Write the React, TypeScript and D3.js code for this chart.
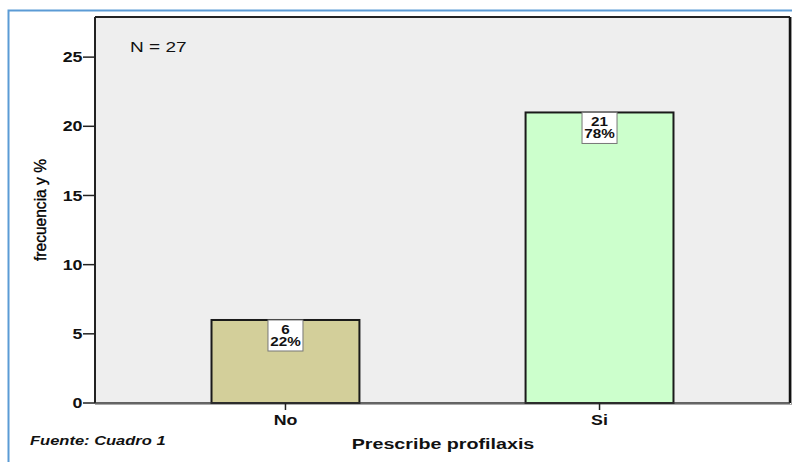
import React from "react";
import * as d3 from "d3";

const categories = ["No", "Si"];
const counts = [6, 21];
const percents = ["22%", "78%"];
const barColors = ["#d3cf9a", "#ccffcc"];
const yTicks = [0, 5, 10, 15, 20, 25];
const totalN = 27;

const W = 792;
const H = 462;
const plot = { left: 95, right: 790, top: 17, bottom: 403 };
const FONT = "'Liberation Sans', Arial, sans-serif";
const SX = 1.27;

type STProps = {
  x: number;
  y: number;
  anchor?: "start" | "middle" | "end";
  size: number;
  weight?: string | number;
  italic?: boolean;
  dy?: string;
  children: React.ReactNode;
};

function SText({ x, y, anchor = "start", size, weight = "normal", italic = false, dy, children }: STProps) {
  return (
    <g transform={`translate(${x},${y}) scale(${SX},1)`}>
      <text
        x={0}
        y={0}
        dy={dy}
        textAnchor={anchor}
        fontSize={size}
        fontWeight={weight}
        fontStyle={italic ? "italic" : "normal"}
        fill="#111"
      >
        {children}
      </text>
    </g>
  );
}

export default function App() {
  const y = d3.scaleLinear().domain([0, 27.9]).range([plot.bottom, plot.top]);
  const x = d3
    .scaleBand<string>()
    .domain(categories)
    .range([plot.left, plot.right])
    .paddingInner(0.529)
    .paddingOuter(0.371);
  const bw = x.bandwidth();

  return (
    <svg width={W} height={H} style={{ position: "absolute", left: 0, top: 0, fontFamily: FONT }}>
      <rect x={0} y={0} width={W} height={H} fill="#ffffff" />
      {/* outer blue frame */}
      <rect x={8.5} y={10.5} width={W + 20} height={H + 20} fill="none" stroke="#5b9bd5" strokeWidth={2} />
      {/* plot background */}
      <rect x={plot.left} y={plot.top} width={plot.right - plot.left} height={plot.bottom - plot.top} fill="#eeeeee" />
      {/* bars */}
      {categories.map((c, i) => {
        const x0 = x(c)!;
        const yTop = y(counts[i]);
        const cx = x0 + bw / 2;
        return (
          <g key={c}>
            <rect x={x0} y={yTop} width={bw} height={y(0) - yTop} fill={barColors[i]} stroke="#1a1a1a" strokeWidth={2} />
            <rect x={cx - 17.5} y={yTop} width={35} height={31} fill="#ffffff" stroke="#777777" strokeWidth={1} />
            <SText x={cx} y={yTop + 14} anchor="middle" size={12} weight="bold">
              {counts[i]}
            </SText>
            <SText x={cx} y={yTop + 26} anchor="middle" size={12} weight="bold">
              {percents[i]}
            </SText>
          </g>
        );
      })}
      {/* frame */}
      <line x1={plot.left} x2={plot.left} y1={plot.top} y2={plot.bottom} stroke="#222" strokeWidth={2} />
      <line x1={plot.left} x2={plot.right} y1={plot.top} y2={plot.top} stroke="#222" strokeWidth={2} />
      <line x1={plot.right} x2={plot.right} y1={plot.top} y2={plot.bottom} stroke="#111" strokeWidth={2.5} />
      <line x1={plot.right + 1.5} x2={plot.right + 1.5} y1={plot.top} y2={plot.bottom + 1.5} stroke="#999" strokeWidth={1} />
      <line x1={plot.left} x2={plot.right} y1={plot.bottom} y2={plot.bottom} stroke="#333" strokeWidth={1.5} />
      <line x1={plot.left} x2={plot.right + 2} y1={plot.bottom + 1.5} y2={plot.bottom + 1.5} stroke="#aaa" strokeWidth={1} />
      {/* y ticks */}
      {yTicks.map((t) => (
        <g key={t}>
          <line x1={plot.left - 12} x2={plot.left} y1={y(t)} y2={y(t)} stroke="#222" strokeWidth={1.5} />
          <SText x={plot.left - 12.5} y={y(t)} dy="0.36em" anchor="end" size={14} weight="bold">
            {t}
          </SText>
        </g>
      ))}
      {/* x ticks */}
      {categories.map((c) => {
        const cx = x(c)! + bw / 2;
        return (
          <g key={c}>
            <line x1={cx} x2={cx} y1={plot.bottom} y2={plot.bottom + 7} stroke="#222" strokeWidth={1.5} />
            <SText x={cx} y={plot.bottom + 22} anchor="middle" size={14} weight="bold">
              {c}
            </SText>
          </g>
        );
      })}
      {/* N label */}
      <SText x={130} y={51.5} size={15}>
        {`N = ${totalN}`}
      </SText>
      {/* axis titles */}
      <text
        transform={`translate(46, ${(plot.top + plot.bottom) / 2}) rotate(-90)`}
        textAnchor="middle"
        fontSize={16}
        fill="#000"
        stroke="#000"
        strokeWidth={0.35}
        textLength={102}
        lengthAdjust="spacingAndGlyphs"
      >
        frecuencia y %
      </text>
      <SText x={443} y={449} anchor="middle" size={15.5} weight="bold">
        Prescribe profilaxis
      </SText>
      <SText x={30} y={444.5} size={13} weight="bold" italic>
        Fuente: Cuadro 1
      </SText>
    </svg>
  );
}
